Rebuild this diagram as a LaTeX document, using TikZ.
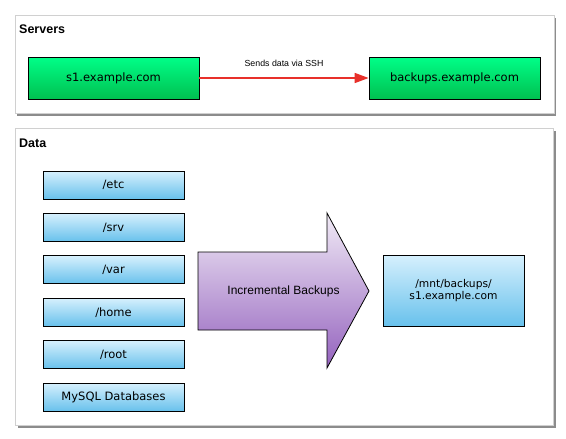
\documentclass[tikz,border=0pt]{standalone}
\usepackage{fontspec}
\setmainfont{Liberation Sans}
\newfontfamily\boxfont{DejaVu Sans}
\usetikzlibrary{positioning, shadows, arrows.meta}

\definecolor{greentop}{HTML}{00FF88}
\definecolor{greenbot}{HTML}{00C050}
\definecolor{bluetop}{HTML}{D6F0FD}
\definecolor{bluebot}{HTML}{68C1EC}
\definecolor{purptop}{HTML}{F1EBF6}
\definecolor{purpbot}{HTML}{9462BE}
\definecolor{sshred}{HTML}{E8302A}
\definecolor{panelline}{HTML}{D0D0D0}

\begin{document}
\begin{tikzpicture}[x=1pt, y=-1pt, font=\fontsize{12}{14}\selectfont,
  panel/.style={draw=panelline, fill=white, drop shadow={shadow xshift=2.5pt, shadow yshift=-3pt, fill=black!75, opacity=0.6}},
  title/.style={font=\fontsize{12.5}{14}\selectfont\bfseries, inner sep=0pt, anchor=base west},
  server/.style={draw, line width=0.8pt, top color=greentop, bottom color=greenbot, minimum width=171pt, minimum height=42pt, font=\boxfont\fontsize{11.5}{13}\selectfont},
  folder/.style={draw, line width=0.8pt, top color=bluetop, bottom color=bluebot, minimum width=141pt, minimum height=28pt, font=\boxfont\fontsize{11.5}{13}\selectfont}]
  \useasboundingbox (0,0) rectangle (566,439);

  % panels
  \node (servers) [panel, minimum width=539pt, minimum height=98pt] at (284.3,63.8) {};
  \node (data) [panel, minimum width=538pt, minimum height=297pt] at (284,276.5) {};
  \node (servers-title) [title] at (19,33) {Servers};
  \node (data-title) [title] at (19,147) {Data};

  % servers
  \node (s1) [server] at (113.5,78) {s1.example.com};
  \node (backups) [server] at (454.5,78) {backups.example.com};
  \draw [sshred, line width=1.6pt, -{Triangle[length=14pt, width=10pt]}] (s1) -- node (ssh) [midway, yshift=15pt, black, font=\fontsize{8.8}{10}\selectfont] {Sends data via SSH} (backups);

  % data
  \node (etc) [folder] at (113.5,185) {/etc};
  \node (srv) [folder, below=13.6pt of etc] {/srv};
  \node (var) [folder, below=13.6pt of srv] {/var};
  \node (home) [folder, below=13.6pt of var] {/home};
  \node (root) [folder, below=13.6pt of home] {/root};
  \node (mysql) [folder, below=13.6pt of root] {MySQL Databases};

  \shade [draw, line width=0.8pt, top color=purptop, bottom color=purpbot] (198,252) -- (327,252) -- (327,213) -- (369,291) -- (327,368) -- (327,330) -- (198,330) -- cycle;
  \node (incr) at (283.5,291) {Incremental Backups};

  \node (dest) [folder, minimum height=71pt, align=center, font=\boxfont\fontsize{10.7}{12}\selectfont] at (453.5,290.5) {/mnt/backups/\\s1.example.com};
\end{tikzpicture}
\end{document}
